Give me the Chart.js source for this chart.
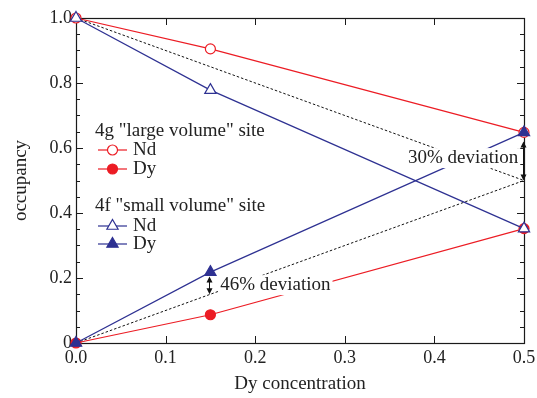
<!DOCTYPE html>
<html>
<head>
<meta charset="utf-8">
<script src="https://cdn.jsdelivr.net/npm/chart.js@4.4.1/dist/chart.umd.min.js"></script>
<style>
  html, body { margin: 0; padding: 0; background: #fff; }
  #wrap { width: 537px; height: 398px; }
</style>
</head>
<body>
<div id="wrap"><canvas id="occ" width="537" height="398"></canvas></div>
<script>
// occupancy of the 4g / 4f sites vs Dy concentration

const dyConc = [0.0, 0.15, 0.5];
const nd4g = [1.0, 0.905, 0.648];
const dy4g = [0.0, 0.087, 0.352];
const nd4f = [1.0, 0.778, 0.352];
const dy4f = [0.0, 0.218, 0.648];

// random-mixing reference (dotted)
const refX = [0.0, 0.5];
const refNd = [1.0, 0.5];
const refDy = [0.0, 0.5];

// deviation arrows: x, from, to, label
const devX = [0.5, 0.15];
const devFrom = [0.5, 0.15];
const devTo = [0.62, 0.205];
const devText = ['30% deviation', '46% deviation'];

const xTicks = [0.0, 0.1, 0.2, 0.3, 0.4, 0.5];
const yTicks = [0, 0.2, 0.4, 0.6, 0.8, 1.0];
const yTickLabels = ['0', '0.2', '0.4', '0.6', '0.8', '1.0'];

const RED = '#ec1c24';
const BLUE = '#2e3192';
const FONT = 'Liberation Serif';

const pts = (xs, ys) => xs.map((x, i) => ({ x, y: ys[i] }));

// frame + inward ticks on all four sides
const framePlugin = {
    id: 'frame',
    beforeDatasetsDraw(chart) {
        const { ctx, chartArea: a, scales: { x, y } } = chart;
        ctx.save();
        ctx.strokeStyle = '#1a1a1a';
        ctx.lineWidth = 1.2;
        ctx.strokeRect(a.left + 0.5, a.top + 0.5, a.right - a.left, a.bottom - a.top);
        ctx.lineWidth = 1;
        ctx.beginPath();
        xTicks.forEach(v => {
            const px = Math.round(x.getPixelForValue(v)) + 0.5;
            ctx.moveTo(px, a.bottom); ctx.lineTo(px, a.bottom - 7);
            ctx.moveTo(px, a.top); ctx.lineTo(px, a.top + 7);
        });
        for (let v = 0; v <= 1.0001; v += 0.05) {
            const py = Math.round(y.getPixelForValue(v)) + 0.5;
            const major = Math.abs(v * 5 - Math.round(v * 5)) < 1e-6;
            const len = major ? 7 : 4;
            ctx.moveTo(a.left, py); ctx.lineTo(a.left + len, py);
            ctx.moveTo(a.right, py); ctx.lineTo(a.right - len, py);
        }
        ctx.stroke();
        ctx.restore();
    }
};

function arrowHead(ctx, x, y, dir) {
    ctx.beginPath();
    ctx.moveTo(x, y);
    ctx.lineTo(x - 3, y - dir * 6);
    ctx.lineTo(x + 3, y - dir * 6);
    ctx.closePath();
    ctx.fill();
}

// deviation arrows, labels and hand-drawn legend
const notesPlugin = {
    id: 'notes',
    afterDatasetsDraw(chart) {
        const { ctx, scales: { x, y } } = chart;
        ctx.save();
        ctx.strokeStyle = '#111';
        ctx.fillStyle = '#111';
        ctx.lineWidth = 1;
        devX.forEach((v, i) => {
            const px = Math.round(x.getPixelForValue(v)) - 0.5;
            const y1 = y.getPixelForValue(devFrom[i]);
            const y2 = y.getPixelForValue(devTo[i]);
            ctx.beginPath();
            ctx.moveTo(px, y1 - 4); ctx.lineTo(px, y2 + 4);
            ctx.stroke();
            arrowHead(ctx, px, y1, 1);
            arrowHead(ctx, px, y2, -1);
        });

        // labels with white background
        ctx.font = '19px "' + FONT + '"';
        ctx.textBaseline = 'middle';
        ctx.textAlign = 'left';
        const labelPos = [[0.3705, 0.569], [0.161, 0.178]];
        devText.forEach((t, i) => {
            const lx = x.getPixelForValue(labelPos[i][0]);
            const ly = y.getPixelForValue(labelPos[i][1]);
            const w = ctx.measureText(t).width;
            ctx.fillStyle = '#fff';
            ctx.fillRect(lx - 2, ly - 10, w + 4, 20);
            ctx.fillStyle = '#222';
            ctx.fillText(t, lx, ly);
        });

        // legend
        const rows = [
            { title: '4g "large volume" site', y: 131 },
            { label: 'Nd', color: RED, style: 'circle', fill: '#fff', y: 150 },
            { label: 'Dy', color: RED, style: 'circle', fill: RED, y: 169 },
            { title: '4f "small volume" site', y: 206 },
            { label: 'Nd', color: BLUE, style: 'triangle', fill: '#fff', y: 226 },
            { label: 'Dy', color: BLUE, style: 'triangle', fill: BLUE, y: 244 }
        ];
        rows.forEach(r => {
            if (r.title) {
                ctx.fillStyle = '#222';
                ctx.fillText(r.title, 95, r.y);
                return;
            }
            ctx.strokeStyle = r.color;
            ctx.lineWidth = 1.2;
            ctx.beginPath();
            ctx.moveTo(98, r.y); ctx.lineTo(127, r.y);
            ctx.stroke();
            ctx.fillStyle = r.fill;
            const rad = r.style === 'circle' ? 5 : 6.5;
            Chart.helpers.drawPoint(ctx, { pointStyle: r.style, radius: rad, borderWidth: 1.2 }, 112.5, r.y);
            ctx.fillStyle = '#222';
            ctx.fillText(r.label, 133, r.y);
        });
        ctx.restore();
    }
};

function series(data, color, style, filled, order) {
    return {
        data,
        borderColor: color,
        backgroundColor: filled ? color : '#fff',
        pointBorderColor: color,
        pointBackgroundColor: filled ? color : '#fff',
        pointStyle: style,
        pointRadius: style === 'circle' ? 5 : 6.5,
        pointBorderWidth: 1.2,
        borderWidth: 1.2,
        showLine: true,
        clip: false,
        order
    };
}

new Chart(document.getElementById('occ'), {
    type: 'scatter',
    data: {
        datasets: [
            { data: pts(refX, refNd), borderColor: '#111', borderWidth: 1, borderDash: [2.5, 2],
              pointRadius: 0, showLine: true, order: 6 },
            { data: pts(refX, refDy), borderColor: '#111', borderWidth: 1, borderDash: [2.5, 2],
              pointRadius: 0, showLine: true, order: 5 },
            series(pts(dyConc, nd4g), RED, 'circle', false, 4),
            series(pts(dyConc, dy4g), RED, 'circle', true, 3),
            series(pts(dyConc, nd4f), BLUE, 'triangle', false, 2),
            series(pts(dyConc, dy4f), BLUE, 'triangle', true, 1)
        ]
    },
    options: {
        responsive: false,
        animation: false,
        layout: { padding: { top: 18, right: 13, left: 0, bottom: 0 } },
        plugins: { legend: { display: false }, tooltip: { enabled: false } },
        scales: {
            x: {
                type: 'linear', min: 0, max: 0.5,
                grid: { display: false, drawTicks: false },
                border: { display: false },
                afterFit: s => { s.height = 55; s.paddingLeft = 0; s.paddingRight = 0; },
                ticks: {
                    stepSize: 0.1, padding: 4, color: '#222',
                    font: { family: FONT, size: 18 },
                    callback: v => v.toFixed(1)
                },
                title: {
                    display: true, text: 'Dy concentration', color: '#222',
                    font: { family: FONT, size: 19 }, padding: { top: 0, bottom: 3 }
                }
            },
            y: {
                type: 'linear', min: 0, max: 1,
                grid: { display: false, drawTicks: false },
                border: { display: false },
                afterFit: s => { s.width = 76; s.paddingTop = 0; s.paddingBottom = 0; },
                afterBuildTicks: s => { s.ticks = yTicks.map(v => ({ value: v })); },
                ticks: {
                    padding: 4, color: '#222',
                    font: { family: FONT, size: 18 },
                    callback: v => yTickLabels[yTicks.findIndex(t => Math.abs(t - v) < 1e-6)]
                },
                title: {
                    display: true, text: 'occupancy', color: '#222',
                    font: { family: FONT, size: 19 }, padding: { top: 10, bottom: 0 }
                }
            }
        }
    },
    plugins: [framePlugin, notesPlugin]
});
</script>
</body>
</html>
